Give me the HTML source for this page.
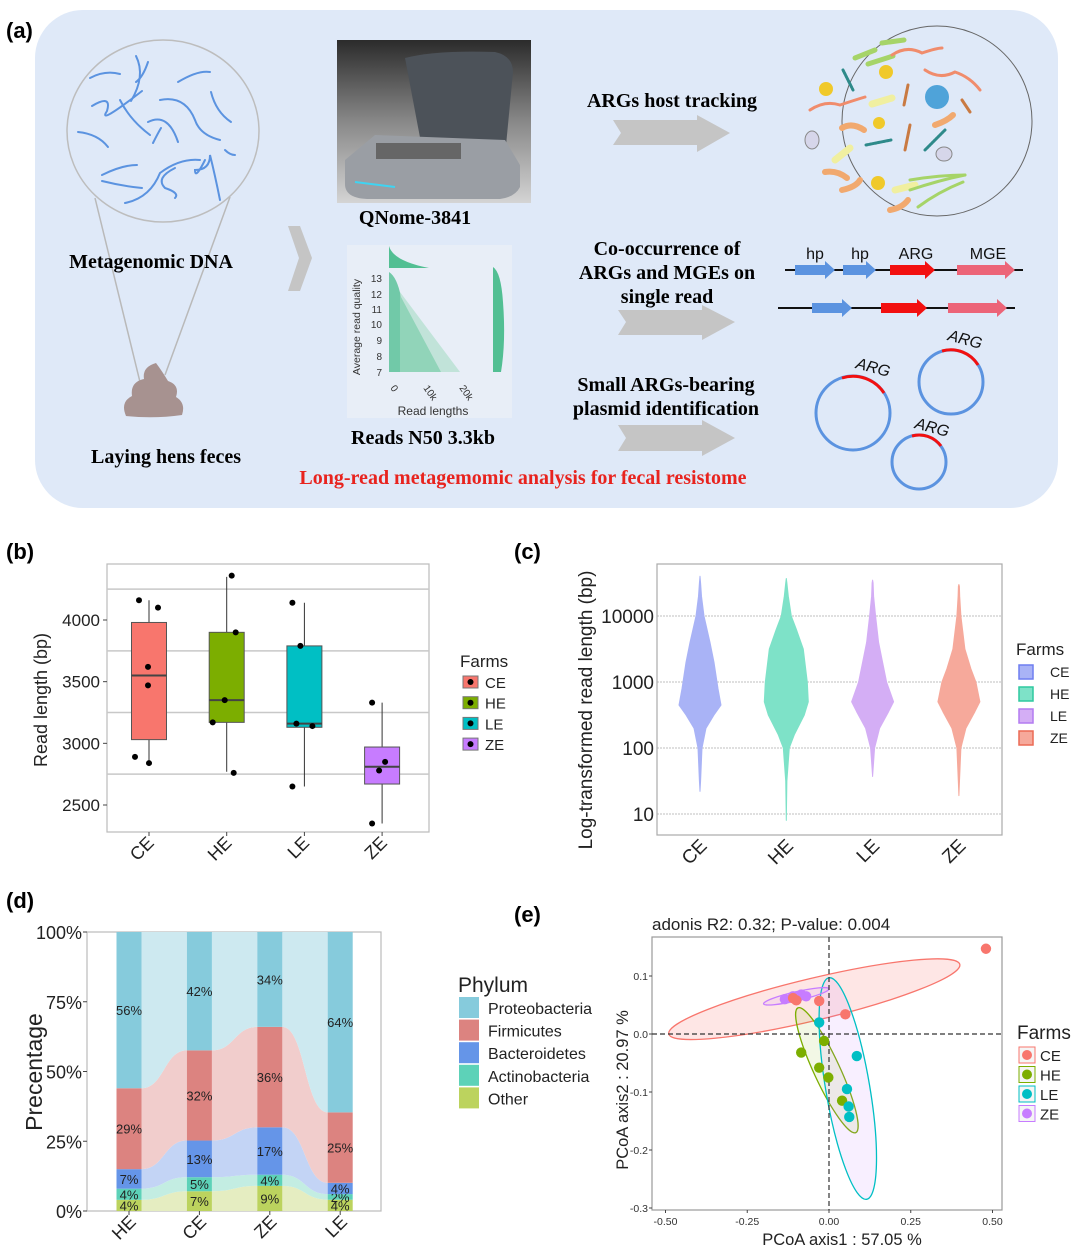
<!DOCTYPE html>
<html><head><meta charset="utf-8"><style>
html,body{margin:0;padding:0;background:#fff;}
svg{display:block;font-family:"Liberation Sans",sans-serif;}
.serif{font-family:"Liberation Serif",serif;font-weight:bold;}
</style></head><body>
<svg id="fig" width="1080" height="1252" viewBox="0 0 1080 1252" xmlns="http://www.w3.org/2000/svg">
<text x="6" y="38" font-size="22" font-weight="bold">(a)</text>
<text x="6" y="559" font-size="22" font-weight="bold">(b)</text>
<text x="514" y="559" font-size="22" font-weight="bold">(c)</text>
<text x="6" y="908" font-size="22" font-weight="bold">(d)</text>
<text x="514" y="922" font-size="22" font-weight="bold">(e)</text>

<g>
<rect x="35" y="10" width="1023" height="498" rx="48" fill="#dfe9f8"/>
<line x1="95" y1="198" x2="140" y2="382" stroke="#b9b9b9" stroke-width="1.5"/>
<line x1="230" y1="197" x2="165" y2="375" stroke="#b9b9b9" stroke-width="1.5"/>
<ellipse cx="163" cy="131" rx="96" ry="91" fill="#dfe9f8" stroke="#bdbdbd" stroke-width="1.5"/>
<g fill="none" stroke="#5b93e0" stroke-width="2" stroke-linecap="round">
<path d="M90 78 q15 -8 30 -4"/><path d="M136 56 q10 20 -5 45"/><path d="M148 62 q-5 15 -12 20"/><path d="M178 82 q20 -12 32 -10"/>
<path d="M92 106 q20 -12 15 5 q-10 15 35 -20"/><path d="M120 100 q10 20 30 35"/><path d="M160 100 q25 -5 35 20 q5 15 25 20"/>
<path d="M211 92 q5 20 20 30"/><path d="M78 132 q20 2 30 15"/><path d="M148 122 q20 -10 30 20"/><path d="M153 143 q5 -10 8 -15"/>
<path d="M102 175 q20 -10 35 -10"/><path d="M102 181 q20 5 40 7"/><path d="M125 203 q25 -5 35 -30 q20 -15 40 -13"/>
<path d="M175 168 q-20 10 -10 20 q15 5 10 10"/><path d="M205 160 q-10 20 -10 10 q15 0 15 -15 q5 20 10 45"/><path d="M225 150 q5 5 10 5"/>
</g>
<path d="M126 416 q-6 -14 6 -20 q-2 -14 12 -17 q-2 -12 12 -16 q6 8 12 18 q12 4 8 16 q10 6 6 18 q-28 4 -56 1 z" fill="#a79290"/>
<text x="151" y="268" font-size="20" text-anchor="middle" class="serif">Metagenomic DNA</text>
<text x="166" y="463" font-size="20" text-anchor="middle" class="serif">Laying hens feces</text>
<polygon points="288,226 300,226 312,258 300,291 288,291 299,258" fill="#c5c5c5"/>
<defs>
<linearGradient id="dev" x1="0" y1="0" x2="0" y2="1"><stop offset="0" stop-color="#2b2b2b"/><stop offset="0.5" stop-color="#888"/><stop offset="1" stop-color="#d4d4d4"/></linearGradient>
</defs>
<rect x="337" y="40" width="194" height="163" fill="url(#dev)"/>
<path d="M405 58 q30 -8 90 -6 q18 4 18 20 l-8 84 l-80 8 z" fill="#4c5259"/>
<path d="M345 160 l30 -25 l130 5 l15 25 l0 22 q-5 10 -20 12 l-130 0 q-25 0 -25 -15 z" fill="#9a9ea4"/>
<path d="M355 182 l40 5" stroke="#3fd4f2" stroke-width="2"/>
<rect x="376" y="143" width="85" height="16" fill="#666"/>
<text x="415" y="224" font-size="20" text-anchor="middle" class="serif">QNome-3841</text>
<g>
<rect x="347" y="245" width="165" height="173" fill="#e8eef7"/>
<path d="M389 372 l0 -100 q8 5 12 25 l40 75 z" fill="#52bf93" opacity="0.8"/>
<path d="M400 372 l0 -80 l60 80 z" fill="#a7dcc4" opacity="0.6"/>
<path d="M389 268 l0 -22 q4 15 40 22 z" fill="#52bf93"/>
<path d="M493 372 l0 -105 q8 5 10 35 q3 40 -2 70 z" fill="#52bf93"/>
<g font-size="10" fill="#333" text-anchor="end">
<text x="382" y="282">13</text><text x="382" y="298">12</text><text x="382" y="313">11</text><text x="382" y="328">10</text><text x="382" y="344">9</text><text x="382" y="360">8</text><text x="382" y="376">7</text>
</g>
<text transform="translate(360,327) rotate(-90)" font-size="10.5" text-anchor="middle" fill="#333">Average read quality</text>
<text transform="translate(390,388) rotate(55)" font-size="10" fill="#333">0</text>
<text transform="translate(423,388) rotate(55)" font-size="10" fill="#333">10k</text>
<text transform="translate(459,388) rotate(55)" font-size="10" fill="#333">20k</text>
<text x="433" y="415" font-size="12" text-anchor="middle" fill="#333">Read lengths</text>
</g>
<text x="423" y="444" font-size="20" text-anchor="middle" class="serif">Reads N50 3.3kb</text>
<g fill="#c5c5c5">
<polygon points="613,120 697,120 697,115 730,133 697,152 697,145 613,145 621,133"/>
<polygon points="618,310 702,310 702,305 735,322 702,340 702,335 618,335 626,322"/>
<polygon points="618,425 702,425 702,420 735,438 702,456 702,451 618,451 626,438"/>
</g>
<g font-size="20" text-anchor="middle" class="serif">
<text x="672" y="107">ARGs host tracking</text>
<text x="667" y="255">Co-occurrence of</text><text x="667" y="279">ARGs and MGEs on</text><text x="667" y="303">single read</text>
<text x="666" y="391">Small ARGs-bearing</text><text x="666" y="415">plasmid identification</text>
</g>
<text x="523" y="484" font-size="20" text-anchor="middle" class="serif" fill="#e8231e">Long-read metagemomic analysis for fecal resistome</text>
<g>
<circle cx="937" cy="121" r="95" fill="#dfe9f8" stroke="#666" stroke-width="1"/>
<g stroke-linecap="round" fill="none" stroke-width="5">
<path d="M855 58 l20 -8" stroke="#a6d468"/><path d="M868 64 l25 -8" stroke="#a6d468"/><path d="M882 43 l22 -3" stroke="#a6d468"/>
<path d="M892 55 q15 -10 30 -2 q15 -5 20 -5" stroke="#f08c6c" stroke-width="3"/>
<path d="M810 110 q15 -10 30 -5 q15 -5 25 -8" stroke="#f08c6c" stroke-width="3"/>
<path d="M925 70 q15 10 30 2 q15 5 25 18" stroke="#f08c6c" stroke-width="3"/>
<path d="M842 128 q10 -6 22 2" stroke="#f1a96f" stroke-width="6"/><path d="M935 125 q12 -4 18 -10" stroke="#f1a96f" stroke-width="6"/>
<path d="M825 172 q12 -2 22 6" stroke="#f1a96f" stroke-width="6"/><path d="M842 190 q14 -3 18 -10" stroke="#f1a96f" stroke-width="6"/><path d="M890 210 q12 -2 18 -10" stroke="#f1a96f" stroke-width="6"/>
<path d="M872 104 l20 -6" stroke="#f0efa0" stroke-width="7"/><path d="M835 160 l15 -12" stroke="#f0efa0" stroke-width="7"/><path d="M895 190 l20 -5" stroke="#f0efa0" stroke-width="7"/>
<path d="M910 180 q30 -5 55 -5" stroke="#a6d468" stroke-width="3"/><path d="M910 190 q30 -10 55 -15" stroke="#a6d468" stroke-width="3"/><path d="M918 207 q20 -15 45 -25" stroke="#a6d468" stroke-width="3"/>
<path d="M843 70 q5 10 10 20" stroke="#2e8a8a" stroke-width="3" stroke-dasharray="2 1"/><path d="M866 145 l25 -5" stroke="#2e8a8a" stroke-width="3" stroke-dasharray="2 1"/><path d="M925 150 l20 -20" stroke="#2e8a8a" stroke-width="3" stroke-dasharray="2 1"/>
<path d="M908 85 l-4 20" stroke="#c97a42" stroke-width="3"/><path d="M910 125 l-5 25" stroke="#c97a42" stroke-width="3"/><path d="M962 100 l8 12" stroke="#c97a42" stroke-width="3"/>
</g>
<circle cx="826" cy="89" r="7" fill="#f0c92a"/><circle cx="886" cy="72" r="7" fill="#f0c92a"/><circle cx="879" cy="123" r="6" fill="#f0c92a"/><circle cx="878" cy="183" r="7" fill="#f0c92a"/>
<circle cx="937" cy="97" r="12" fill="#4fa3d9"/><ellipse cx="812" cy="140" rx="7" ry="9" fill="#d6d6ea" stroke="#888"/><ellipse cx="944" cy="154" rx="8" ry="7" fill="#d6d6ea" stroke="#888"/>
</g>
<g>
<line x1="785" y1="270" x2="1023" y2="270" stroke="#111" stroke-width="2"/>
<line x1="778" y1="308" x2="1015" y2="308" stroke="#111" stroke-width="2"/>
<polygon points="795,265 825,265 825,261 835,270 825,279 825,275 795,275" fill="#5b93e0"/>
<polygon points="843,265 866,265 866,261 876,270 866,279 866,275 843,275" fill="#5b93e0"/>
<polygon points="890,265 925,265 925,261 935,270 925,279 925,275 890,275" fill="#f21010"/>
<polygon points="957,265 1005,265 1005,261 1015,270 1005,279 1005,275 957,275" fill="#ec6478"/>
<polygon points="812,303 842,303 842,299 852,308 842,317 842,313 812,313" fill="#5b93e0"/>
<polygon points="881,303 917,303 917,299 927,308 917,317 917,313 881,313" fill="#f21010"/>
<polygon points="948,303 997,303 997,299 1007,308 997,317 997,313 948,313" fill="#ec6478"/>
<g font-size="16" text-anchor="middle" fill="#111"><text x="815" y="259">hp</text><text x="860" y="259">hp</text><text x="916" y="259">ARG</text><text x="988" y="259">MGE</text></g>
</g>
<g fill="none" stroke-width="3">
<circle cx="853" cy="413" r="37" stroke="#5b93e0"/><path d="M842 378 A37 37 0 0 1 884 393" stroke="#f21010"/>
<circle cx="951" cy="382" r="32" stroke="#5b93e0"/><path d="M942 351 A32 32 0 0 1 978 365" stroke="#f21010"/>
<circle cx="919" cy="462" r="27" stroke="#5b93e0"/><path d="M912 436 A27 27 0 0 1 941 446" stroke="#f21010"/>
<g font-size="16" fill="#111" stroke="none" font-style="italic"><text transform="translate(855,368) rotate(15)">ARG</text><text transform="translate(947,340) rotate(15)">ARG</text><text transform="translate(914,428) rotate(15)">ARG</text></g>
</g>
</g>

<g id="pb"></g>
<g id="pc"></g>
<g id="pd"></g>
<g id="pe"></g>
</svg>
<script>
// ---------- Panel b data ----------
const bCats = ["CE","HE","LE","ZE"];
const bLow = [2840, 2770, 2650, 2350];
const bQ1 = [3030, 3170, 3130, 2670];
const bMed = [3550, 3350, 3160, 2810];
const bQ3 = [3980, 3900, 3790, 2970];
const bHigh = [4160, 4350, 4140, 3330];
const bPoints = [[4160,4100,3620,3470,2890,2840],[4360,3900,3350,3170,2760],[4140,3790,3160,3140,2650],[3330,2850,2780,2350]];
const bJitter = [[-10,9,-1,-1,-14,0],[5,9,-2,-14,7],[-12,-4,-8,8,-12],[-10,3,-3,-10]];
const bTicks = [2500,3000,3500,4000];
const bGrid = [2750,3250,3750,4250];
const farmColors = ["#f8766d","#7cae00","#00bfc4","#c77cff"];
// ---------- Panel c data ----------
const cCats = ["CE","HE","LE","ZE"];
const cMin = [22, 8, 37, 19];
const cMax = [40000, 37000, 35000, 30000];
const cLogLevels = [[1.5,2,2.3,2.5,2.65,2.9,3,3.3,3.6,4,4.3,4.5],[1.5,2,2.2,2.5,2.7,3,3.5,3.8,4,4.3,4.5],[1.7,2,2.3,2.55,2.7,3,3.3,3.6,4,4.3,4.5],[1.5,2,2.3,2.55,2.7,3,3.2,3.5,4,4.3,4.45]];
const cWidths = [[0.6,2,6,14,21,18,17,14,10,4,1.5,0.6],[0.6,3,8,18,22,21,17,10,5,2,0.6],[0.6,2,7,16,21,14,10,6,3,1,0.5],[0.6,2,7,16,21,17,12,6,2,0.8,0.5]];
const cTicks = [10,100,1000,10000];
const cFill = ["#a9b3f6","#7ee2c8","#d4aef5","#f6a99b"];
const cStroke = ["#6f7ef0","#2ec99f","#b37bf0","#ec6a55"];
// ---------- Panel d data ----------
const dCats = ["HE","CE","ZE","LE"];
const dPhyla = ["Proteobacteria","Firmicutes","Bacteroidetes","Actinobacteria","Other"];
const dOther = [4,7,9,4];
const dActino = [4,5,4,2];
const dBactero = [7,13,17,4];
const dFirmi = [29,32,36,25];
const dProteo = [56,42,34,64];
const dTicks = [0,25,50,75,100];
const dColors = ["#86cbdc","#dc8380","#6595e8","#5dd2b8","#bcd35e"];
const dFlow = ["#cde9f0","#f1cdcc","#c3d4f5","#c3ede2","#e5edc1"];
// ---------- Panel e data ----------
const eGroups = ["CE","HE","LE","ZE"];
const eX = [[0.48,-0.03,0.05,-0.10,-0.11],[-0.015,-0.085,-0.03,-0.002,0.04],[-0.03,0.085,0.055,0.06,0.062],[-0.135,-0.11,-0.085,-0.07,-0.095]];
const eY = [[0.147,0.057,0.034,0.058,0.062],[-0.012,-0.032,-0.058,-0.075,-0.115],[0.02,-0.038,-0.095,-0.125,-0.143],[0.06,0.065,0.068,0.065,0.063]];
const eEllEnd1X = [-0.49,-0.095,0.0,-0.2];
const eEllEnd1Y = [0.0,0.045,0.097,0.052];
const eEllEnd2X = [0.40,0.082,0.115,0.0];
const eEllEnd2Y = [0.12,-0.17,-0.285,0.078];
const eEllMinor = [21,13,22,4.5];
const eXTicks = [-0.5,-0.25,0,0.25,0.5];
const eYTicks = [-0.3,-0.2,-0.1,0,0.1];
const eXTickLabels = ["-0.50","-0.25","0.00","0.25","0.50"];
const eYTickLabels = ["-0.3","-0.2","-0.1","0.0","0.1"];

const NS="http://www.w3.org/2000/svg";
function mk(parent, tag, attrs, text){const e=document.createElementNS(NS,tag);for(const k in attrs)e.setAttribute(k,attrs[k]);if(text!==undefined)e.textContent=text;parent.appendChild(e);return e;}

// ===== Panel b =====
(function(){
const g=document.getElementById('pb');
const L=107,T=564,R=429,B=832;
const y=v=>620-(v-4000)*0.12333;
const x=i=>149+i*77.7;
mk(g,'rect',{x:L,y:T,width:R-L,height:B-T,fill:'#fff',stroke:'#bbb','stroke-width':1.2});
bGrid.forEach(v=>{const l=mk(g,'line',{x1:L,x2:R,y1:y(v),y2:y(v),stroke:'#c8c8c8','stroke-width':1.5});

});
bTicks.forEach(v=>{const t=mk(g,'text',{x:L-7,y:y(v)+6,'font-size':17,'text-anchor':'end',fill:'#222'},String(v));


mk(g,'line',{x1:L-4,x2:L,y1:y(v),y2:y(v),stroke:'#444'});});
bCats.forEach((c,i)=>{
 const cx=x(i),w=35;
 mk(g,'line',{x1:cx,x2:cx,y1:y(bHigh[i]),y2:y(bLow[i]),stroke:'#333','stroke-width':1});
 const r=mk(g,'rect',{x:cx-w/2,y:y(bQ3[i]),width:w,height:y(bQ1[i])-y(bQ3[i]),fill:farmColors[i],stroke:'#555','stroke-width':1});
 
 
 mk(g,'line',{x1:cx-w/2,x2:cx+w/2,y1:y(bMed[i]),y2:y(bMed[i]),stroke:'#444','stroke-width':2});
 bPoints[i].forEach((p,j)=>{const d=mk(g,'circle',{cx:cx+bJitter[i][j],cy:y(p),r:3,fill:'#000'});
 
 });
 mk(g,'line',{x1:cx,x2:cx,y1:B,y2:B+4,stroke:'#444'});
 const t=mk(g,'text',{transform:`translate(${cx+6},${B+12}) rotate(-45)`,'font-size':18,'text-anchor':'end',fill:'#222'},c);
 
 
});
const yt=mk(g,'text',{transform:'translate(47,700) rotate(-90)','font-size':18,'text-anchor':'middle',fill:'#222'},'Read length (bp)');


const lt=mk(g,'text',{x:460,y:667,'font-size':17,fill:'#222'},'Farms');


bCats.forEach((c,i)=>{const yy=682+i*20.7;
 const le=mk(g,'g',{});
 
 
 mk(le,'rect',{x:463,y:yy-6,width:15,height:12,fill:farmColors[i],stroke:'#777'});
 mk(le,'circle',{cx:470.5,cy:yy,r:3,fill:'#000'});
 mk(le,'text',{x:485,y:yy+6,'font-size':15,fill:'#222'},c);});
})();

// ===== Panel c =====
(function(){
const g=document.getElementById('pc');
const L=657,T=564,R=1002,B=835;
const y=v=>814-(Math.log10(v)-1)*66;
const x=i=>700+i*86.3;
mk(g,'rect',{x:L,y:T,width:R-L,height:B-T,fill:'#fff',stroke:'#aaa','stroke-width':1.2});
cTicks.forEach(v=>{const l=mk(g,'line',{x1:L,x2:R,y1:y(v),y2:y(v),stroke:'#aaa','stroke-dasharray':'2 1','stroke-width':0.8});


const t=mk(g,'text',{x:L-3,y:y(v)+7,'font-size':19,'text-anchor':'end',fill:'#222'},String(v));

});
cCats.forEach((c,i)=>{
 const cx=x(i);
 const pts=[[Math.log10(cMin[i]),0]];
 cLogLevels[i].forEach((lv,j)=>{if(lv>Math.log10(cMin[i])&&lv<Math.log10(cMax[i]))pts.push([lv,cWidths[i][j]]);});
 pts.push([Math.log10(cMax[i]),0]);
 const yy=lv=>814-(lv-1)*66;
 let d='M'+cx+' '+yy(pts[0][0]);
 pts.forEach(p=>d+=' L'+(cx+p[1])+' '+yy(p[0]));
 for(let k=pts.length-1;k>=0;k--)d+=' L'+(cx-pts[k][1])+' '+yy(pts[k][0]);
 d+='Z';
 const p=mk(g,'path',{d:d,fill:cFill[i],stroke:cFill[i],'stroke-width':1,'stroke-linejoin':'round'});
 
 
 const t=mk(g,'text',{transform:`translate(${cx+8},${B+12}) rotate(-45)`,'font-size':19,'text-anchor':'end',fill:'#222'},c);
 
 
});
const yt=mk(g,'text',{transform:'translate(592,710) rotate(-90)','font-size':19,'text-anchor':'middle',fill:'#222'},'Log-transformed read length (bp)');


const lt=mk(g,'text',{x:1016,y:655,'font-size':17,fill:'#222'},'Farms');


cCats.forEach((c,i)=>{const yy=671+i*22;
 const le=mk(g,'g',{});
 
 
 mk(le,'rect',{x:1019,y:yy-6,width:14,height:14,fill:cFill[i],stroke:cStroke[i],'stroke-width':1.5});
 mk(le,'text',{x:1050,y:yy+6,'font-size':14,fill:'#222'},c);});
})();

// ===== Panel d =====
(function(){
const g=document.getElementById('pd');
const L=87,T=932,R=381,B=1211;
const y=v=>B-v/100*(B-T);
const x=i=>129+i*70.4;
const bw=25;
mk(g,'rect',{x:L,y:T,width:R-L,height:B-T,fill:'#fff',stroke:'#bbb','stroke-width':1.2});
const series=[dOther,dActino,dBactero,dFirmi,dProteo];
const colIdx=[4,3,2,1,0];
const n=dCats.length;
const tot=dCats.map((c,i)=>series.reduce((s,a)=>s+a[i],0));
const cum=[];
series.forEach((arr,s)=>{cum.push(dCats.map((c,i)=>{let lo=0;for(let k=0;k<s;k++)lo+=series[k][i];return [lo/tot[i]*100,(lo+arr[i])/tot[i]*100];}));});
series.forEach((arr,s)=>{
 for(let i=0;i<n-1;i++){
  const x1=x(i)+bw/2,x2=x(i+1)-bw/2,mx=(x1+x2)/2;
  const a=cum[s][i],b=cum[s][i+1];
  const d=`M${x1} ${y(a[1])} C${mx} ${y(a[1])} ${mx} ${y(b[1])} ${x2} ${y(b[1])} L${x2} ${y(b[0])} C${mx} ${y(b[0])} ${mx} ${y(a[0])} ${x1} ${y(a[0])}Z`;
  const p=mk(g,'path',{d:d,fill:dFlow[colIdx[s]]});
  
  
 }
});
series.forEach((arr,s)=>{
 dCats.forEach((c,i)=>{
  const a=cum[s][i];
  const r=mk(g,'rect',{x:x(i)-bw/2,y:y(a[1]),width:bw,height:y(a[0])-y(a[1]),fill:dColors[colIdx[s]]});
  
  
  const t=mk(g,'text',{x:x(i),y:(y(a[0])+y(a[1]))/2+5,'font-size':13,'text-anchor':'middle',fill:'#222'},arr[i]+'%');
  
  
 });
});
dTicks.forEach(v=>{mk(g,'line',{x1:L-4,x2:L,y1:y(v),y2:y(v),stroke:'#444'});
const t=mk(g,'text',{x:L-5,y:y(v)+7,'font-size':18,'text-anchor':'end',fill:'#222'},v+'%');

});
dCats.forEach((c,i)=>{mk(g,'line',{x1:x(i),x2:x(i),y1:B,y2:B+4,stroke:'#444'});
const t=mk(g,'text',{transform:`translate(${x(i)+8},${B+12}) rotate(-45)`,'font-size':18,'text-anchor':'end',fill:'#222'},c);

});
const yt=mk(g,'text',{transform:'translate(42,1072) rotate(-90)','font-size':23,'text-anchor':'middle',fill:'#222'},'Precentage');


const lt=mk(g,'text',{x:458,y:992,'font-size':21,fill:'#222'},'Phylum');


dPhyla.forEach((p,i)=>{const yy=997+i*22.6;
 const le=mk(g,'g',{});
 
 
 mk(le,'rect',{x:459,y:yy,width:20,height:21,fill:dColors[i]});
 mk(le,'text',{x:488,y:yy+17,'font-size':16,fill:'#222'},p);});
})();

// ===== Panel e =====
(function(){
const g=document.getElementById('pe');
const L=652,T=937,R=1002,B=1210;
const x=v=>829+v*327;
const y=v=>1034-v*580;
mk(g,'rect',{x:L,y:T,width:R-L,height:B-T,fill:'#fff',stroke:'#999','stroke-width':1.2});
const ellFill=["rgba(248,118,109,0.18)","rgba(124,174,0,0.10)","rgba(199,124,255,0.12)","rgba(199,124,255,0.12)"];
const ellStroke=["#f8766d","#7cae00","#00bfc4","#c77cff"];
eGroups.forEach((gname,i)=>{
 const x1=x(eEllEnd1X[i]),y1=y(eEllEnd1Y[i]),x2=x(eEllEnd2X[i]),y2=y(eEllEnd2Y[i]);
 const cx=(x1+x2)/2,cy=(y1+y2)/2,rx=Math.hypot(x2-x1,y2-y1)/2,ang=Math.atan2(y2-y1,x2-x1)*180/Math.PI;
 const e=mk(g,'ellipse',{cx:cx,cy:cy,rx:rx,ry:eEllMinor[i],transform:`rotate(${ang} ${cx} ${cy})`,fill:ellFill[i],stroke:ellStroke[i],'stroke-width':1.3});
 
 
});
mk(g,'line',{x1:x(0),x2:x(0),y1:T,y2:B,stroke:'#333','stroke-dasharray':'5 3','stroke-width':1.2});
mk(g,'line',{x1:L,x2:R,y1:y(0),y2:y(0),stroke:'#333','stroke-dasharray':'5 3','stroke-width':1.2});
[3,1,2,0].forEach(i=>{
 eX[i].forEach((vx,j)=>{const c=mk(g,'circle',{cx:x(vx),cy:y(eY[i][j]),r:5.2,fill:farmColors[i]});
 
 });
});
eXTicks.forEach((v,i)=>{mk(g,'line',{x1:x(v),x2:x(v),y1:B,y2:B+3,stroke:'#444'});
const t=mk(g,'text',{x:x(v),y:B+15,'font-size':10.5,'text-anchor':'middle',fill:'#333'},eXTickLabels[i]);

});
eYTicks.forEach((v,i)=>{mk(g,'line',{x1:L-3,x2:L,y1:y(v),y2:y(v),stroke:'#444'});
const t=mk(g,'text',{x:L-4,y:y(v)+4,'font-size':10.5,'text-anchor':'end',fill:'#333'},eYTickLabels[i]);

});
const ti=mk(g,'text',{x:652,y:930,'font-size':17,fill:'#222'},'adonis R2: 0.32; P-value: 0.004');


const xt=mk(g,'text',{x:842,y:1245,'font-size':16.5,'text-anchor':'middle',fill:'#222'},'PCoA axis1 : 57.05 %');


const yt=mk(g,'text',{transform:'translate(628,1090) rotate(-90)','font-size':16.5,'text-anchor':'middle',fill:'#222'},'PCoA axis2 : 20.97 %');


const lt=mk(g,'text',{x:1017,y:1039,'font-size':19,fill:'#222'},'Farms');


eGroups.forEach((c,i)=>{const yy=1055+i*19.5;
 const le=mk(g,'g',{});
 
 
 mk(le,'rect',{x:1019,y:yy-8,width:16,height:16,fill:'rgba(0,0,0,0.04)',stroke:ellStroke[i],'stroke-width':1});
 mk(le,'circle',{cx:1027,cy:yy,r:5,fill:farmColors[i]});
 mk(le,'text',{x:1040,y:yy+6,'font-size':15,fill:'#222'},c);});
})();
</script>
</body></html>
